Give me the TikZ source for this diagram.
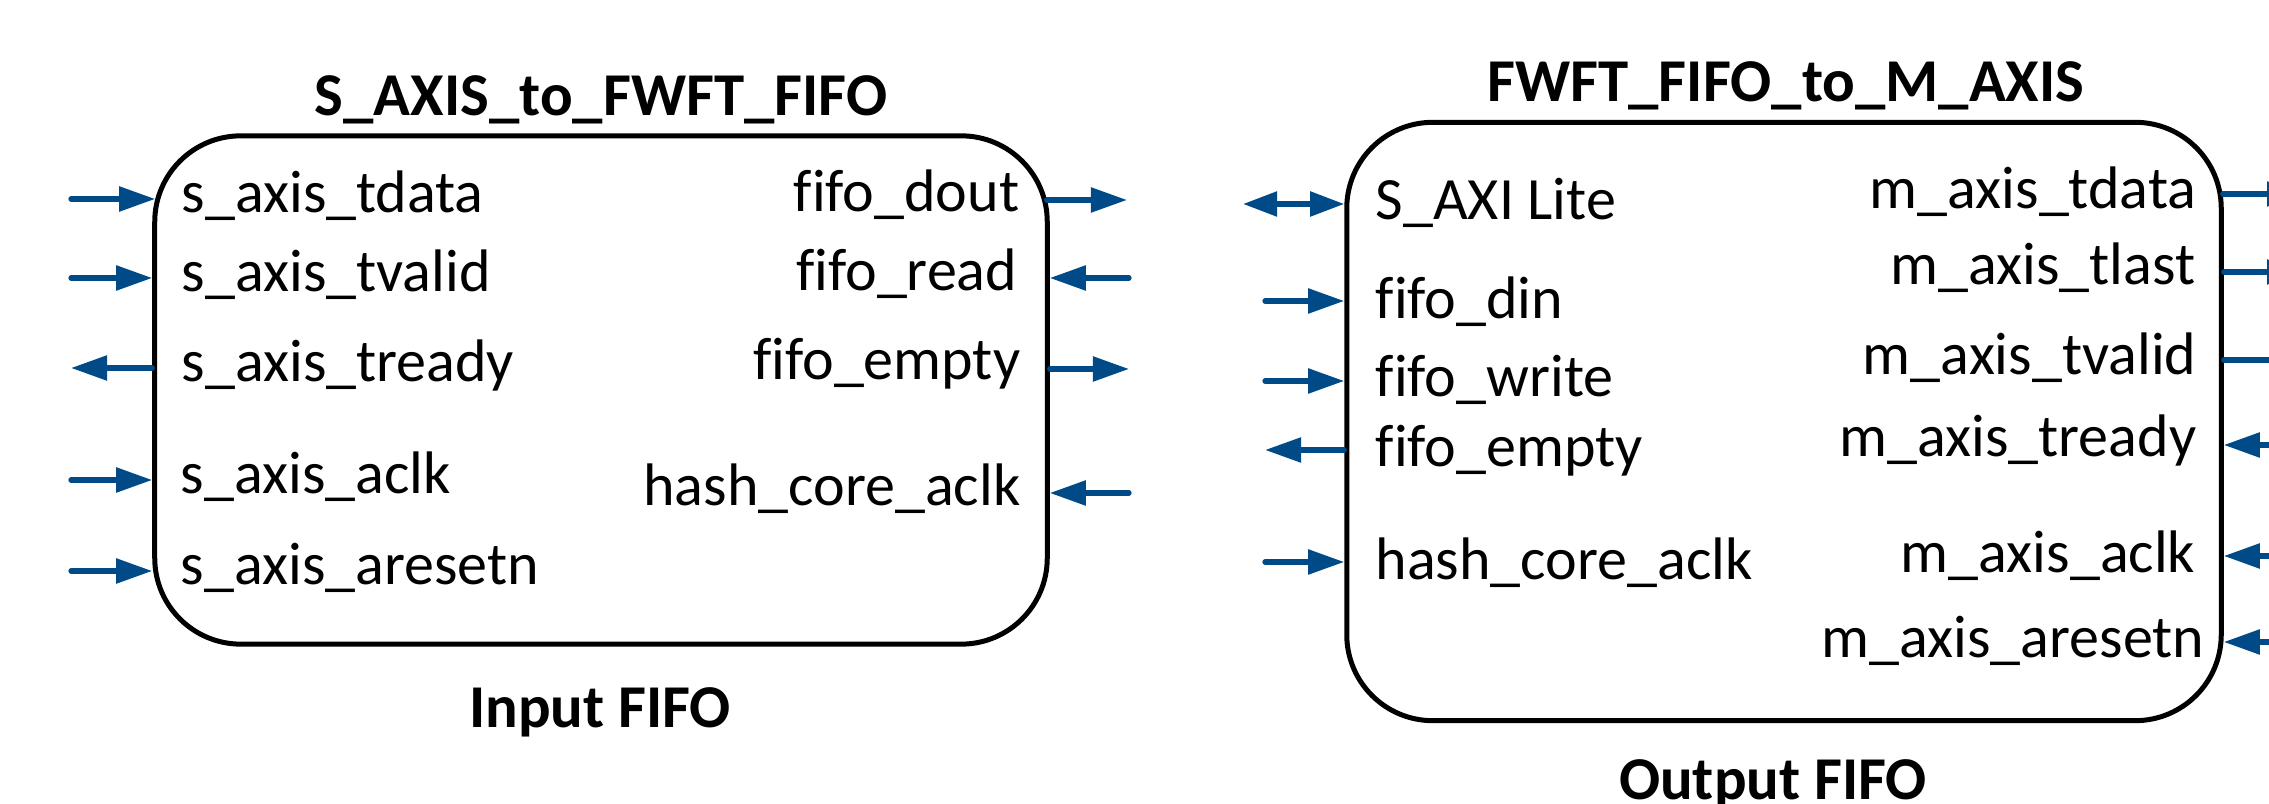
\documentclass[tikz,border=0pt]{standalone}
\usepackage{fontspec}
\setmainfont{Carlito}[Ligatures=CommonOff]
\usetikzlibrary{arrows.meta,calc}
\definecolor{pinblue}{RGB}{0,75,135}
\begin{document}
\begin{tikzpicture}[x=0.01cm, y=-0.01cm,
  block/.style={draw=black, line width=0.05cm, rounded corners=0.86cm, inner sep=0pt},
  lbl/.style={font=\fontsize{17.07pt}{20pt}\selectfont, inner sep=0pt},
  ttl/.style={font=\fontsize{17.3pt}{20pt}\selectfont\bfseries, inner sep=0pt, anchor=base},
  pin/.style={draw=pinblue, line width=0.053cm, line cap=round,
    -{Triangle[length=0.36cm, width=0.24cm]}},
  bipin/.style={draw=pinblue, line width=0.053cm, line cap=round,
    {Triangle[length=0.34cm, width=0.24cm]}-{Triangle[length=0.34cm, width=0.24cm]}}]
\clip (0,0) rectangle (2269,804);

% ---------- input FIFO block ----------
\node[block, minimum width=8.92cm, minimum height=5.08cm] (inbox) at (601,390) {};
\node[ttl] (inttl) at (601,116) {S\_AXIS\_to\_FWFT\_FIFO};
\node[ttl] (incap) at (600,728) {Input FIFO};

% left-hand ports
\node[lbl, anchor=base west] (l1) at (181,213) {s\_axis\_tdata};
\node[lbl, anchor=base west] (l2) at (181,292) {s\_axis\_tvalid};
\node[lbl, anchor=base west] (l3) at (181,382) {s\_axis\_tready};
\node[lbl, anchor=base west] (l4) at (180,494) {s\_axis\_aclk};
\node[lbl, anchor=base west] (l5) at (180,585) {s\_axis\_aresetn};
\coordinate (pl1) at (71,199);
\coordinate (pl2) at (71,278);
\coordinate (pl3) at (71,368);
\coordinate (pl4) at (71,480);
\coordinate (pl5) at (71,571);
\draw[pin] (pl1) -- ($(pl1 -| inbox.west)+(3,0)$);
\draw[pin] (pl2) -- (pl2 -| inbox.west);
\draw[pin] (pl3 -| inbox.west) -- (pl3);
\draw[pin] (pl4) -- (pl4 -| inbox.west);
\draw[pin] (pl5) -- (pl5 -| inbox.west);

% right-hand ports
\node[lbl, anchor=base east] (r1) at (1020,212) {fifo\_dout};
\node[lbl, anchor=base east] (r2) at (1018,291) {fifo\_read};
\node[lbl, anchor=base east] (r3) at (1021,380) {fifo\_empty};
\node[lbl, anchor=base east] (r4) at (1021,506) {hash\_core\_aclk};
\coordinate (pr1) at (1127,200);
\coordinate (pr2) at (1129,278);
\coordinate (pr3) at (1129,369);
\coordinate (pr4) at (1129,493);
\draw[pin] ($(pr1 -| inbox.east)+(-3,0)$) -- (pr1);
\draw[pin] (pr2) -- (pr2 -| inbox.east);
\draw[pin] (pr3 -| inbox.east) -- (pr3);
\draw[pin] (pr4) -- (pr4 -| inbox.east);

% ---------- output FIFO block ----------
\node[block, minimum width=8.74cm, minimum height=5.98cm] (outbox) at (1784,421.5) {};
\node[ttl] (outttl) at (1786,102) {FWFT\_FIFO\_to\_M\_AXIS};
\node[ttl] (outcap) at (1773,800) {Output FIFO};

% left-hand ports
\node[lbl, anchor=base west] (m1) at (1375,220) {S\_AXI Lite};
\node[lbl, anchor=base west] (m2) at (1375,319) {fifo\_din};
\node[lbl, anchor=base west] (m3) at (1375,397) {fifo\_write};
\node[lbl, anchor=base west] (m4) at (1375,467) {fifo\_empty};
\node[lbl, anchor=base west] (m5) at (1375,580) {hash\_core\_aclk};
\coordinate (pm1) at (1243,204);
\coordinate (pm2) at (1265,301);
\coordinate (pm3) at (1265,381);
\coordinate (pm4) at (1265,450);
\coordinate (pm5) at (1265,562);
\draw[bipin] (pm1) -- (pm1 -| outbox.west);
\draw[pin] (pm2) -- (pm2 -| outbox.west);
\draw[pin] (pm3) -- (pm3 -| outbox.west);
\draw[pin] (pm4 -| outbox.west) -- (pm4);
\draw[pin] (pm5) -- (pm5 -| outbox.west);

% right-hand ports
\node[lbl, anchor=base east] (n1) at (2197,209) {m\_axis\_tdata};
\node[lbl, anchor=base east] (n2) at (2196,285) {m\_axis\_tlast};
\node[lbl, anchor=base east] (n3) at (2197,375) {m\_axis\_tvalid};
\node[lbl, anchor=base east] (n4) at (2197,457) {m\_axis\_tready};
\node[lbl, anchor=base east] (n5) at (2196,573) {m\_axis\_aclk};
\node[lbl, anchor=base east] (n6) at (2205,658) {m\_axis\_aresetn};
\coordinate (pn1) at (2303,194);
\coordinate (pn2) at (2303,272);
\coordinate (pn3) at (2330,360);
\coordinate (pn4) at (2300,445);
\coordinate (pn5) at (2300,556);
\coordinate (pn6) at (2300,642);
\draw[pin] ($(pn1 -| outbox.east)+(-1,0)$) -- (pn1);
\draw[pin] (pn2 -| outbox.east) -- (pn2);
\draw[pin] (pn3 -| outbox.east) -- (pn3);
\draw[pin] (pn4) -- (pn4 -| outbox.east);
\draw[pin] (pn5) -- (pn5 -| outbox.east);
\draw[pin] (pn6) -- (pn6 -| outbox.east);
\end{tikzpicture}
\end{document}
